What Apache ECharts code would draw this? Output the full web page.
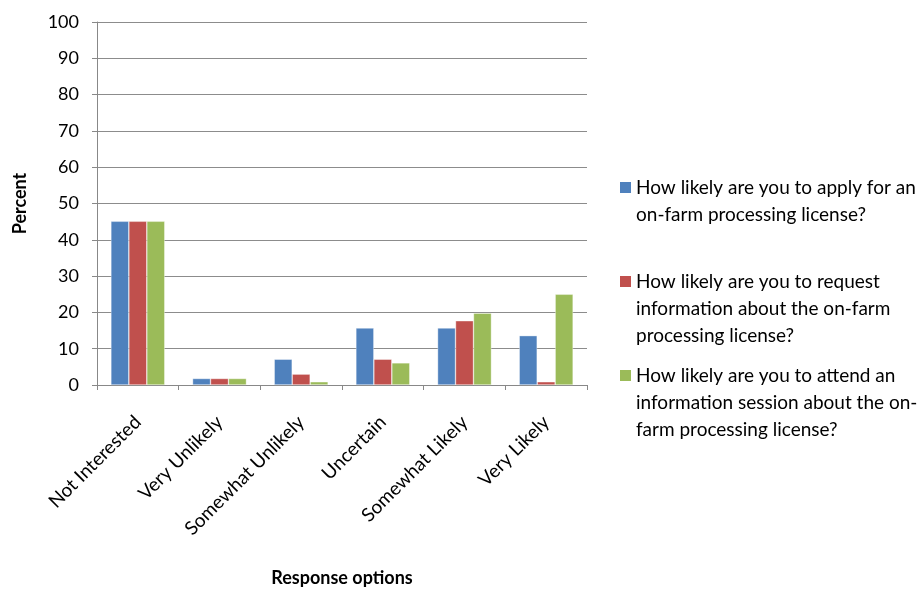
<!DOCTYPE html>
<html>
<head>
<meta charset="utf-8">
<script src="https://cdn.jsdelivr.net/npm/echarts@6/dist/echarts.min.js"></script>
<style>
html,body{margin:0;padding:0;background:#fff;}
#c{width:919px;height:592px;}
</style>
</head>
<body>
<div id="c"></div>
<script>
const categories = ['Not Interested','Very Unlikely','Somewhat Unlikely','Uncertain','Somewhat Likely','Very Likely'];
const seriesNames = [
  'How likely are you to apply for an\non-farm processing license?',
  'How likely are you to request\ninformation about the on-farm\nprocessing license?',
  'How likely are you to attend an\ninformation session about the on-\nfarm processing license?'
];
const applyValues   = [45.1, 1.8, 7.1, 15.7, 15.7, 13.6];
const requestValues = [45.1, 1.8, 3.0, 7.1, 17.7, 0.9];
const attendValues  = [45.1, 1.8, 0.9, 6.1, 19.8, 25.0];
const yTicks = [0,10,20,30,40,50,60,70,80,90,100];
const colors = ['#4F81BD','#C0504D','#9BBB59'];

const FONT = 'Lato, "Open Sans", sans-serif';
const chart = echarts.init(document.getElementById('c'));

const legendTops = [181, 275, 369];
const legendGraphics = [];
seriesNames.forEach((n, i) => {
  legendGraphics.push({
    type: 'rect', left: 620, top: legendTops[i] + 1,
    shape: {width: 11, height: 11}, style: {fill: colors[i]}
  });
  legendGraphics.push({
    type: 'text', left: 636, top: legendTops[i] - 7,
    style: {text: n, font: '19px ' + FONT, fill: '#000', lineHeight: 27}
  });
});

const mk = (name, data, color) => ({
  name, type: 'bar', data, barGap: '0%', barCategoryGap: '34%',
  itemStyle: {color, borderColor: 'rgba(255,255,255,0.6)', borderWidth: 0.6},
  emphasis: {disabled: true}
});

chart.setOption({
  animation: false,
  textStyle: {fontFamily: FONT},
  grid: {left: 97, right: 332, top: 22, bottom: 204, containLabel: false},
  xAxis: {
    type: 'category', data: categories,
    name: 'Response options', nameLocation: 'middle', nameGap: 184,
    nameTextStyle: {fontSize: 18, fontWeight: 'bold', color: '#000', fontFamily: FONT},
    axisLine: {lineStyle: {color: '#888', width: 1}},
    axisTick: {show: true, length: 5, alignWithLabel: false, lineStyle: {color: '#888'}},
    axisLabel: {rotate: 45, fontSize: 19, color: '#000', margin: 34, interval: 0}
  },
  yAxis: {
    type: 'value', min: yTicks[0], max: yTicks[yTicks.length-1], interval: 10,
    name: 'Percent', nameLocation: 'middle', nameGap: 68, nameRotate: 90,
    nameTextStyle: {fontSize: 18, fontWeight: 'bold', color: '#000', fontFamily: FONT},
    axisLine: {show: true, lineStyle: {color: '#888', width: 1}},
    axisTick: {show: true, length: 5, inside: false, lineStyle: {color: '#888'}},
    axisLabel: {fontSize: 18, color: '#000', margin: 18},
    splitLine: {show: true, lineStyle: {color: '#8c8c8c', width: 1}}
  },
  series: [
    mk(seriesNames[0], applyValues, colors[0]),
    mk(seriesNames[1], requestValues, colors[1]),
    mk(seriesNames[2], attendValues, colors[2])
  ],
  graphic: legendGraphics
});
</script>
</body>
</html>
